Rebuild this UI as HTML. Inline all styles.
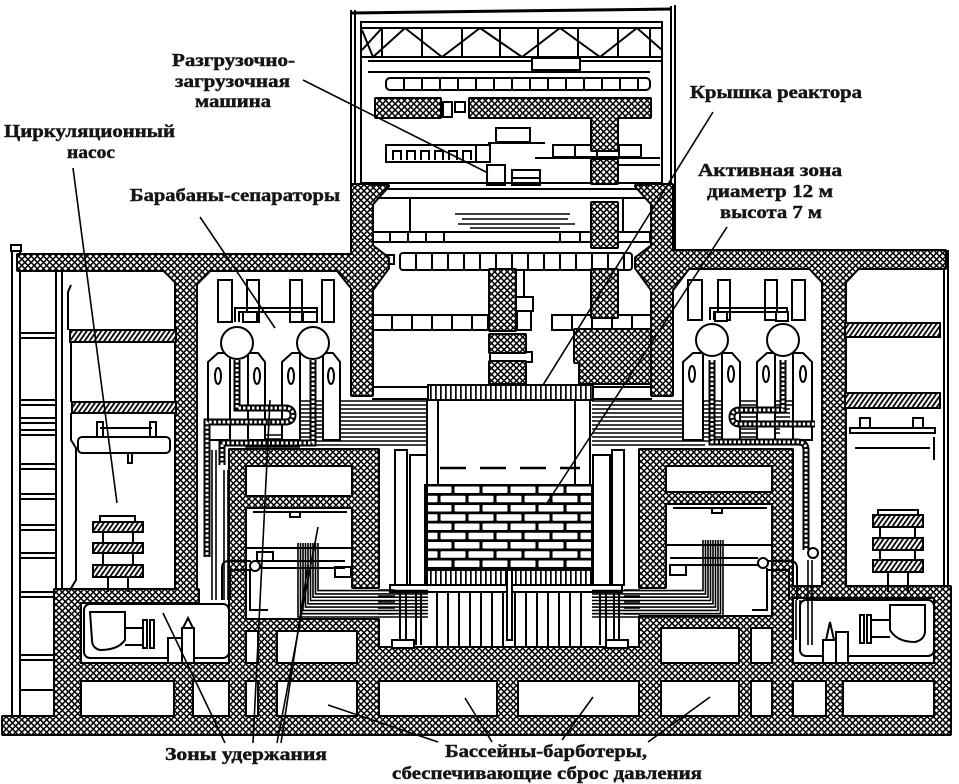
<!DOCTYPE html>
<html><head><meta charset="utf-8"><style>
html,body{margin:0;padding:0;background:#fff;}
svg{display:block}
text{font-family:"Liberation Serif","DejaVu Serif",serif;font-size:18px;fill:#151515;stroke:#151515;stroke-width:0.45px;font-weight:bold;}
</style></head><body>
<svg width="959" height="784" viewBox="0 0 959 784" xmlns="http://www.w3.org/2000/svg">
<defs>
<pattern id="x" width="4.4" height="4.4" patternUnits="userSpaceOnUse" patternTransform="rotate(45)">
<rect width="4.4" height="4.4" fill="#fff"/><rect width="4.4" height="1.5" fill="#000"/><rect width="1.5" height="4.4" fill="#000"/></pattern>
<pattern id="d" width="4" height="4" patternUnits="userSpaceOnUse" patternTransform="rotate(-55)">
<rect width="4" height="4" fill="#fff"/><rect width="4" height="1.8" fill="#000"/></pattern>
<pattern id="v" width="5" height="10" patternUnits="userSpaceOnUse"><rect width="5" height="10" fill="#fff"/><rect width="1.7" height="10" fill="#000"/></pattern>
<pattern id="b" width="28" height="18.5" patternUnits="userSpaceOnUse" x="425" y="485">
<rect width="28" height="18.5" fill="#000"/>
<rect x="1.5" y="1.5" width="25" height="6.5" rx="1" fill="#fff"/>
<rect x="-12.5" y="10.75" width="25" height="6.5" rx="1" fill="#fff"/>
<rect x="15.5" y="10.75" width="25" height="6.5" rx="1" fill="#fff"/>
</pattern>
<g id="W">
<rect x="18" y="255" width="336" height="15"/>
<rect x="352" y="185" width="20" height="210"/>
<polygon points="372,246 388,258 388,268 372,290"/>
<polygon points="352,268 336,268 352,288"/>
<polygon points="372,186 388,186 372,204"/>
<rect x="652" y="185" width="20" height="210"/>
<polygon points="652,246 636,258 636,268 652,290"/>
<polygon points="672,266 690,266 672,290"/>
<polygon points="652,186 636,186 652,204"/>
<rect x="672" y="251" width="273" height="17"/>
<rect x="176" y="268" width="20" height="324"/>
<polygon points="196,268 212,268 196,284"/>
<polygon points="176,268 162,268 176,282"/>
<rect x="823" y="266" width="22" height="325"/>
<polygon points="823,266 808,266 823,282"/>
<polygon points="845,266 860,266 845,282"/>
<rect x="230" y="450" width="148" height="15"/>
<rect x="230" y="450" width="15" height="270"/>
<rect x="245" y="497" width="108" height="10"/>
<rect x="353" y="450" width="25" height="137"/>
<rect x="245" y="620" width="133" height="10"/>
<rect x="358" y="620" width="20" height="100"/>
<rect x="259" y="630" width="17" height="90"/>
<rect x="640" y="450" width="152" height="15"/>
<rect x="640" y="450" width="25" height="137"/>
<rect x="665" y="493" width="108" height="10"/>
<rect x="773" y="450" width="19" height="270"/>
<rect x="640" y="617" width="133" height="10"/>
<rect x="640" y="617" width="20" height="103"/>
<rect x="740" y="627" width="10" height="93"/>
<rect x="378" y="648" width="262" height="32"/>
<rect x="55" y="664" width="890" height="16"/>
<rect x="3" y="717" width="947" height="17"/>
<rect x="55" y="590" width="25" height="130"/>
<rect x="175" y="680" width="17" height="40"/>
<rect x="498" y="680" width="19" height="40"/>
<rect x="827" y="680" width="15" height="40"/>
<rect x="935" y="587" width="15" height="133"/>
<rect x="55" y="590" width="143" height="12"/>
<rect x="792" y="587" width="158" height="10"/>
<rect x="592" y="203" width="25" height="44"/>
<rect x="592" y="270" width="25" height="47"/>
<rect x="490" y="270" width="25" height="60"/>
<rect x="490" y="335" width="35" height="17"/>
<rect x="490" y="362" width="35" height="21"/>
<rect x="575" y="330" width="75" height="32"/>
<rect x="580" y="362" width="70" height="21"/>
<rect x="376" y="99" width="64" height="18"/>
<rect x="470" y="99" width="180" height="18"/>
<rect x="592" y="117" width="25" height="33"/>
<rect x="592" y="160" width="25" height="23"/>
</g>
<g id="D">
<rect x="70" y="330" width="106" height="12"/>
<rect x="72" y="402" width="104" height="11"/>
<rect x="845" y="323" width="95" height="14"/>
<rect x="845" y="393" width="95" height="15"/>
<rect x="93" y="522" width="50" height="10"/>
<rect x="93" y="543" width="50" height="10"/>
<rect x="93" y="565" width="50" height="12"/>
<rect x="873" y="515" width="50" height="12"/>
<rect x="873" y="538" width="50" height="12"/>
<rect x="873" y="560" width="50" height="12"/>
</g>
<g id="B">
<path d="M237,360 V408 H285 Q293,408 293,415 Q293,422 285,422 H207 V557"/>
<path d="M313,360 V443 H222 V465"/>
<path d="M712,360 V442 H798 Q806,442 806,450 V550"/>
<path d="M783,360 V410 H740 Q732,410 732,417 Q732,424 740,424 H815"/>
</g>
</defs>

<g stroke="#000" stroke-width="2" fill="none">
<rect x="11" y="245" width="10" height="6" fill="#fff"/>
<path d="M12,250 V718 M20,250 V718 M56,270 V590 M62,270 V590"/>
<path d="M20,333 H55 M20,338 H55 M20,400 H55 M20,405 H55 M20,418 H55 M20,423 H55 M20,430 H55 M20,435 H55 M20,464 H55 M20,469 H55 M20,494 H55 M20,499 H55 M20,525 H55 M20,530 H55 M20,553 H55 M20,558 H55 M20,592 H55 M20,597 H55 M20,655 H55 M20,660 H55 M20,690 H55"/>
<path d="M71,285 L68,292 V330 M71,342 V402 M71,413 V440 L76,448 V580 L70,590" />
<path d="M944,268 V590 M948,250 V590"/>
</g>

<g stroke="#000" stroke-width="2" fill="none">
<path d="M351,10 V256 M355,10 V256 M671,6 V252 M675,5 V252"/>
<path d="M351,13 L672,9" stroke-width="3"/>
<path d="M360,22 H663 M361,22 V184 M662,22 V184"/>
<path d="M362,28 H662 M362,57 H662"/>
<polyline points="362,30 373,57 405,28 442,57 480,28 522,57 560,28 600,57 637,28 662,50"/>
<path d="M362,50 L382,28 M382,28 V57 M422,28 V57 M462,28 V57 M500,28 V57 M538,28 V57 M578,28 V57 M618,28 V57 M650,28 V57"/>
<path d="M368,61 H662 M368,72 H650"/>
<rect x="532" y="58" width="48" height="12" fill="#fff"/>
<rect x="386" y="78" width="264" height="12" rx="4" fill="#fff"/>
<path d="M404,78 V90 M422,78 V90 M440,78 V90 M458,78 V90 M476,78 V90 M494,78 V90 M512,78 V90 M530,78 V90 M548,78 V90 M566,78 V90 M584,78 V90 M602,78 V90 M620,78 V90 M638,78 V90"/>
<rect x="443" y="102" width="9" height="15"/><rect x="455" y="102" width="10" height="10"/>
<rect x="496" y="128" width="34" height="14"/>
<path d="M488,143 H545"/>
<rect x="386" y="145" width="90" height="17"/>
<path d="M393,160 V151 H401 V160 M407,160 V151 H415 V160 M421,160 V151 H429 V160 M435,160 V151 H443 V160 M449,160 V151 H457 V160 M463,160 V151 H471 V160"/>
<rect x="476" y="145" width="14" height="17"/>
<rect x="553" y="145" width="88" height="12"/>
<path d="M575,145 V157 M597,145 V157 M619,145 V157 M535,158 H660 M600,165 H660"/>
<rect x="487" y="165" width="18" height="20" fill="#fff"/>
<rect x="512" y="170" width="28" height="8"/><rect x="512" y="178" width="28" height="7"/>
<path d="M362,183 H662 M362,189 H662"/>
</g>

<g stroke="#000" stroke-width="2" fill="none">
<path d="M372,198 H652"/>
<rect x="410" y="198" width="213" height="34"/>
<path d="M455,214 H570 M462,219 H568 M458,224 H575 M470,228 H560" stroke-width="1.5"/>
<rect x="372" y="232" width="278" height="10"/>
<path d="M390,232 V242 M408,232 V242 M426,232 V242 M444,232 V242 M560,232 V242 M580,232 V242"/>
<rect x="400" y="253" width="232" height="17" rx="3"/>
<path d="M416,253 V270 M432,253 V270 M448,253 V270 M464,253 V270 M480,253 V270 M496,253 V270 M512,253 V270 M528,253 V270 M544,253 V270 M560,253 V270 M576,253 V270 M592,253 V270 M608,253 V270 M624,253 V270"/>
<rect x="386" y="255" width="8" height="9"/>
<rect x="372" y="315" width="116" height="15"/>
<path d="M392,315 V330 M412,315 V330 M432,315 V330 M452,315 V330 M472,315 V330"/>
<rect x="552" y="315" width="100" height="15"/>
<path d="M572,315 V330 M592,315 V330 M612,315 V330 M632,315 V330"/>
<path d="M516,270 V297 M524,270 V297"/>
<rect x="515" y="297" width="18" height="14"/><rect x="517" y="311" width="14" height="19"/>
<rect x="490" y="352" width="42" height="10"/>
<path d="M372,387 H428 M372,399 H428 M593,387 H652 M593,399 H652"/>
</g>

<use href="#W" fill="#000" stroke="#000" stroke-width="4" stroke-linejoin="round"/>
<use href="#W" fill="url(#x)"/>
<use href="#D" fill="url(#d)" stroke="#000" stroke-width="2"/>

<g stroke="#000" stroke-width="2" fill="none">
<rect x="428" y="385" width="165" height="15" fill="url(#v)"/>
<path d="M427,400 V485 M438,400 V485 M575,400 V485 M590,400 V485"/>
<path d="M440,468 H580" stroke-width="2.5" stroke-dasharray="26 14"/>
<rect x="425" y="485" width="167" height="85" fill="url(#b)"/>
<rect x="425" y="570" width="167" height="15" fill="url(#v)"/>
<rect x="390" y="585" width="232" height="7" fill="#fff"/>
<path d="M437,592 V648 M448,592 V648 M459,592 V648 M470,592 V648 M481,592 V648 M492,592 V648 M503,592 V648 M515,592 V648 M526,592 V648 M537,592 V648 M548,592 V648 M559,592 V648 M570,592 V648 M581,592 V648"/>
<rect x="507" y="570" width="5" height="70" fill="#fff"/>
<rect x="395" y="450" width="12" height="135"/><rect x="410" y="455" width="17" height="130"/>
<rect x="593" y="455" width="17" height="130"/><rect x="612" y="450" width="12" height="135"/>
<path d="M400,592 V645 M406,592 V645 M416,592 V645 M421,592 V645 M600,592 V645 M606,592 V645 M614,592 V645 M619,592 V645"/>
<rect x="392" y="640" width="22" height="8" fill="#fff"/><rect x="606" y="640" width="22" height="8" fill="#fff"/>
</g>

<g stroke="#000" stroke-width="1.6" fill="none">
<path d="M290,401 H428 M290,405 H428 M295,409 H428 M300,413 H428 M300,417 H428 M300,421 H428 M300,425 H428 M300,429 H428 M300,433 H428 M300,437 H428 M300,441 H428 M300,445 H428"/>
<path d="M592,401 H800 M592,405 H800 M592,409 H790 M592,413 H790 M592,417 H790 M592,421 H790 M592,425 H790 M592,429 H780 M592,433 H780 M592,437 H760 M592,441 H720 M592,445 H705"/>
<path d="M250,380 V443 H290 M254,380 V439 H290 M258,380 V435 H290 M246,440 V447 H300"/>
<path d="M298,543 V617 H428 M300.5,543 V613.7 H428 M303,543 V610.4 H428 M305.5,543 V607.1 H428 M308,543 V603.8 H428 M310.5,543 V600.5 H428 M313,543 V597.2 H428 M315.5,543 V593.9 H428 M318,543 V590.6 H428"/>
<path d="M723,540 V617 H592 M720.5,540 V613.7 H592 M718,540 V610.4 H592 M715.5,540 V607.1 H592 M713,540 V603.8 H592 M710.5,540 V600.5 H592 M708,540 V597.2 H592 M705.5,540 V593.9 H592 M703,540 V590.6 H592"/>
<path d="M378,590 H395 M378,596 H395 M378,602 H395 M378,608 H395 M378,614 H395 M624,590 H640 M624,596 H640 M624,602 H640 M624,608 H640 M624,614 H640"/>
<path d="M212,450 V600 M216,450 V600 M224,470 V600 M228,470 V600"/>
<path d="M808,560 V645 M812,560 V645 M800,600 V640 M796,600 V640"/>
</g>

<g stroke="#000" stroke-width="2" fill="#fff">
<rect x="218" y="280" width="14" height="42"/><rect x="247" y="280" width="12" height="42"/>
<rect x="290" y="280" width="12" height="42"/><rect x="322" y="280" width="12" height="42"/>
<path d="M235,322 V308 H317 V322 M239,322 V312 H313 V322" fill="none"/>
<rect x="243" y="312" width="14" height="10"/><rect x="303" y="312" width="14" height="10"/>
<polygon points="208,440 208,362 218,353 230,353 230,440"/>
<polygon points="248,440 248,353 258,353 265,362 265,440"/>
<polygon points="282,440 282,362 292,353 300,353 300,440"/>
<polygon points="323,440 323,353 333,353 340,362 340,440"/>
<ellipse cx="218" cy="376" rx="3" ry="8"/><ellipse cx="257" cy="376" rx="3" ry="8"/>
<ellipse cx="291" cy="376" rx="3" ry="8"/><ellipse cx="331" cy="376" rx="3" ry="8"/>
<circle cx="237" cy="343" r="16"/><circle cx="313" cy="343" r="16"/>
</g>
<g stroke="#000" stroke-width="2" fill="#fff">
<rect x="688" y="280" width="14" height="40"/><rect x="718" y="280" width="12" height="40"/>
<rect x="765" y="280" width="12" height="40"/><rect x="792" y="280" width="13" height="40"/>
<path d="M710,320 V308 H787 V320 M714,320 V312 H783 V320" fill="none"/>
<rect x="715" y="312" width="12" height="9"/><rect x="776" y="312" width="12" height="9"/>
<polygon points="683,440 683,362 693,353 703,353 703,440"/>
<polygon points="722,440 722,353 732,353 740,362 740,440"/>
<polygon points="757,440 757,362 767,353 775,353 775,440"/>
<polygon points="793,440 793,353 803,353 812,362 812,440"/>
<ellipse cx="692" cy="374" rx="3" ry="8"/><ellipse cx="731" cy="374" rx="3" ry="8"/>
<ellipse cx="766" cy="374" rx="3" ry="8"/><ellipse cx="803" cy="374" rx="3" ry="8"/>
<circle cx="712" cy="340" r="16"/><circle cx="783" cy="340" r="16"/>
</g>

<use href="#B" stroke="#000" stroke-width="7" fill="none"/>
<use href="#B" stroke="#fff" stroke-width="3" stroke-dasharray="2.5 2" fill="none"/>

<g stroke="#000" stroke-width="2" fill="none">
<path d="M253,512 H347 M673,508 H767 M245,548 H353 M665,545 H773"/>
<rect x="290" y="512" width="10" height="5"/><rect x="712" y="508" width="10" height="5"/>
<path d="M222,600 V568 Q222,561 229,561 H251 M230,600 V570 H251"/>
<circle cx="255" cy="566" r="5" fill="#fff"/>
<path d="M260,561 H345 M260,568 H345 M250,571 V610 H268"/>
<rect x="335" y="567" width="16" height="10"/>
<rect x="257" y="552" width="16" height="9"/>
<path d="M797,600 V568 Q797,561 790,561 H768 M789,600 V570 H768"/>
<circle cx="763" cy="563" r="5" fill="#fff"/>
<path d="M758,558 H670 M758,565 H670 M767,568 V610 H752"/>
<rect x="670" y="565" width="16" height="10"/>
<circle cx="813" cy="553" r="5" fill="#fff"/>
</g>

<g stroke="#000" stroke-width="2" fill="#fff">
<rect x="78" y="437" width="92" height="16" rx="4"/>
<rect x="97" y="422" width="6" height="15"/><rect x="150" y="422" width="6" height="15"/>
<path d="M100,428 H152" fill="none"/><rect x="128" y="453" width="4" height="10"/>
<rect x="100" y="516" width="35" height="6"/>
<path d="M103,532 V543 M133,532 V543 M103,553 V565 M133,553 V565 M108,577 V592 M128,577 V592" fill="none"/>
<rect x="850" y="428" width="85" height="5"/>
<rect x="860" y="418" width="10" height="10"/><rect x="913" y="418" width="10" height="10"/>
<path d="M855,448 H930 M934,437 V460" fill="none"/>
<rect x="878" y="510" width="40" height="5"/>
<path d="M880,527 V538 M915,527 V538 M880,550 V560 M915,550 V560 M888,572 V592 M908,572 V592" fill="none"/>
<rect x="84" y="604" width="145" height="54" rx="6" fill="none"/>
<path d="M90,612 H125 V640 Q118,650 100,650 Q92,648 92,640 Z"/>
<path d="M125,628 H143 M125,645 H143" fill="none"/>
<rect x="143" y="620" width="4" height="28"/><rect x="150" y="620" width="4" height="28"/>
<rect x="168" y="638" width="16" height="25"/><rect x="182" y="628" width="12" height="35"/>
<path d="M183,628 L188,618 L193,628" fill="none"/>
<rect x="800" y="600" width="134" height="56" rx="6" fill="none"/>
<path d="M925,605 H890 V630 Q897,642 915,642 Q924,640 925,632 Z"/>
<path d="M890,620 H870 M890,637 H870" fill="none"/>
<rect x="860" y="615" width="4" height="28"/><rect x="867" y="615" width="4" height="28"/>
<rect x="823" y="640" width="14" height="23"/><rect x="836" y="632" width="12" height="31"/>
<path d="M826,640 L830,622 L834,640" fill="none"/>
</g>

<g stroke="#000" stroke-width="1.6" fill="none">
<path d="M303,80 L488,173"/>
<path d="M73,168 L117,503"/>
<path d="M200,217 L275,328"/>
<path d="M713,112 L543,385"/>
<path d="M727,227 L547,503"/>
<path d="M225,743 L163,613"/>
<path d="M253,743 L270,400"/>
<path d="M277,743 L318,527"/>
<path d="M281,743 L308,565"/>
<path d="M438,742 L328,705"/>
<path d="M465,698 L492,742"/>
<path d="M562,740 L593,697"/>
<path d="M648,742 L710,697"/>
</g>

<text x="172" y="66" textLength="123" lengthAdjust="spacingAndGlyphs">Разгрузочно-</text>
<text x="175" y="87" textLength="115" lengthAdjust="spacingAndGlyphs">загрузочная</text>
<text x="195" y="107" textLength="76" lengthAdjust="spacingAndGlyphs">машина</text>
<text x="4" y="137" textLength="171" lengthAdjust="spacingAndGlyphs">Циркуляционный</text>
<text x="67" y="158" textLength="48" lengthAdjust="spacingAndGlyphs">насос</text>
<text x="130" y="201" textLength="210" lengthAdjust="spacingAndGlyphs">Барабаны-сепараторы</text>
<text x="690" y="98" textLength="172" lengthAdjust="spacingAndGlyphs">Крышка реактора</text>
<text x="698" y="176" textLength="144" lengthAdjust="spacingAndGlyphs">Активная зона</text>
<text x="707" y="197" textLength="126" lengthAdjust="spacingAndGlyphs">диаметр 12 м</text>
<text x="720" y="218" textLength="102" lengthAdjust="spacingAndGlyphs">высота 7 м</text>
<text x="165" y="760" textLength="162" lengthAdjust="spacingAndGlyphs">Зоны удержания</text>
<text x="445" y="757" textLength="202" lengthAdjust="spacingAndGlyphs">Бассейны-барботеры,</text>
<text x="392" y="779" textLength="310" lengthAdjust="spacingAndGlyphs">сбеспечивающие сброс давления</text>
</svg>
</body></html>
